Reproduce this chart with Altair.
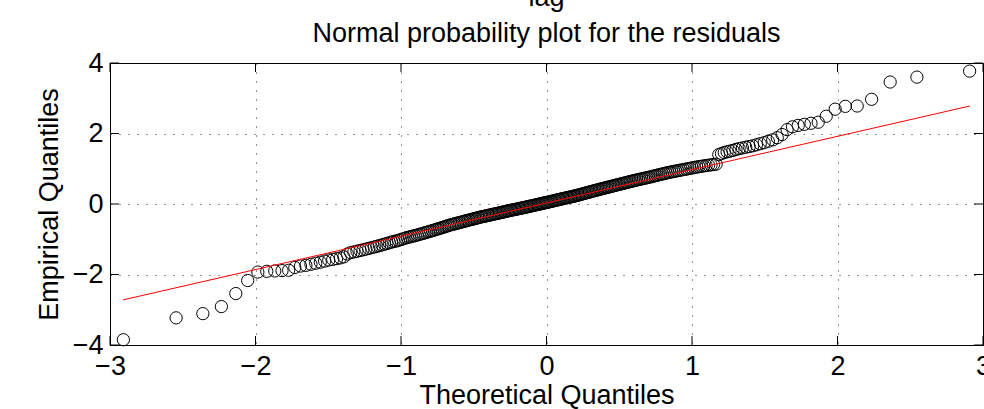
import altair as alt
import pandas as pd

# Sorted residuals (empirical quantiles)
residuals = [
    -3.85, -3.23, -3.11, -2.91, -2.54, -2.17, -1.93, -1.91, -1.90, -1.89,
    -1.88, -1.80, -1.76, -1.74, -1.71,
    -1.68, -1.65, -1.62, -1.59, -1.57, -1.55, -1.53, -1.50, -1.42, -1.38,
    -1.36, -1.34, -1.32, -1.30, -1.28, -1.26, -1.24, -1.22, -1.20, -1.18,
    -1.16, -1.14, -1.12, -1.10, -1.08, -1.06, -1.05, -1.03, -1.01, -0.99,
    -0.97, -0.95, -0.94, -0.92, -0.91,
    -0.895, -0.88, -0.863, -0.848, -0.833, -0.817, -0.80, -0.786, -0.77, -0.755,
    -0.74, -0.724, -0.709, -0.693, -0.678, -0.662, -0.647, -0.631, -0.616, -0.60,
    -0.588, -0.576, -0.564, -0.552, -0.54, -0.528, -0.516, -0.504, -0.492, -0.48,
    -0.469, -0.458, -0.447, -0.436, -0.425, -0.414, -0.403, -0.392, -0.381, -0.37,
    -0.361, -0.352, -0.343, -0.334, -0.325, -0.316, -0.307, -0.298, -0.289, -0.28,
    -0.271, -0.262, -0.253, -0.244, -0.235, -0.226, -0.217, -0.208, -0.199, -0.19,
    -0.182, -0.174, -0.166, -0.158, -0.15, -0.142, -0.134, -0.126, -0.118, -0.11,
    -0.10, -0.093, -0.085, -0.076, -0.068, -0.059, -0.051, -0.042, -0.034, -0.025,
    -0.017, -0.008, 0.0, 0.009, 0.018, 0.026, 0.035, 0.043, 0.052, 0.06,
    0.069, 0.078, 0.087, 0.096, 0.105, 0.114, 0.123, 0.132, 0.141, 0.15,
    0.159, 0.167, 0.176, 0.184, 0.193, 0.201, 0.21, 0.218, 0.227, 0.235,
    0.246, 0.256, 0.267, 0.277, 0.288, 0.298, 0.309, 0.319, 0.33, 0.34,
    0.351, 0.361, 0.372, 0.382, 0.393, 0.403, 0.414, 0.424, 0.435, 0.445,
    0.456, 0.466, 0.477, 0.487, 0.498, 0.508, 0.519, 0.529, 0.54, 0.55,
    0.561, 0.572, 0.583, 0.594, 0.605, 0.616, 0.627, 0.638, 0.649, 0.66,
    0.671, 0.681, 0.692, 0.702, 0.713, 0.723, 0.734, 0.744, 0.755, 0.765,
    0.778, 0.79, 0.803, 0.815, 0.828, 0.84, 0.853, 0.865, 0.878, 0.89,
    0.901, 0.912, 0.923, 0.934, 0.945, 0.956, 0.967, 0.978, 0.989, 1.00,
    1.012, 1.024, 1.036, 1.048, 1.06, 1.07, 1.08, 1.09, 1.10, 1.11,
    1.12, 1.13,
    1.40, 1.43, 1.46, 1.48, 1.50, 1.52, 1.55, 1.57, 1.59, 1.61,
    1.63, 1.65, 1.68, 1.71, 1.74, 1.78, 1.82, 1.88, 1.97, 2.11,
    2.19, 2.23, 2.26, 2.29, 2.32, 2.49, 2.69, 2.77, 2.78, 2.97,
    3.46, 3.60, 3.77,
]

# Reference (fit) line end points
fit_x = [-2.91, 2.91]
fit_y = [-2.72, 2.78]

x_ticks = [-3, -2, -1, 0, 1, 2, 3]
y_ticks = [-4, -2, 0, 2, 4]
title_lines = ["lag", "Normal probability plot for the residuals"]

FONT = "Liberation Sans"
FS = 27
W, H = 873, 282

df = pd.DataFrame({"residual": residuals})
fit_df = pd.DataFrame({"x": fit_x, "y": fit_y})
xt_df = pd.DataFrame({"t": x_ticks})
yt_df = pd.DataFrame({"t": y_ticks})

xscale = alt.Scale(domain=[-3, 3], nice=False, zero=False)
yscale = alt.Scale(domain=[-4, 4], nice=False, zero=False)

axis_common = dict(
    labelFont=FONT, labelFontSize=FS, labelColor="black",
    titleFont=FONT, titleFontSize=FS, titleColor="black", titleFontWeight="normal",
    domainColor="black", domainWidth=1,
    ticks=False, grid=True, gridColor="black", gridDash=[1, 8], gridWidth=1,
    gridOpacity=0.85, labelOverlap=False,
)

points = (
    alt.Chart(df)
    .transform_window(rank="row_number()", sort=[alt.SortField("residual", order="ascending")])
    .transform_joinaggregate(n="count()")
    .transform_calculate(theoretical="quantileNormal((datum.rank - 0.5) / datum.n)")
    .mark_point(shape="circle", filled=False, color="black", size=150, strokeWidth=1, opacity=1)
    .encode(
        x=alt.X("theoretical:Q", scale=xscale,
                axis=alt.Axis(values=x_ticks, title="Theoretical Quantiles", labelFlush=False,
                              labelPadding=8, titlePadding=3, format="d", **axis_common)),
        y=alt.Y("residual:Q", scale=yscale,
                axis=alt.Axis(values=y_ticks, title="Empirical Quantiles",
                              labelPadding=7, titlePadding=9, format="d", **axis_common)),
    )
)

fit = alt.Chart(fit_df).mark_line(color="red", strokeWidth=1).encode(
    x=alt.X("x:Q", scale=xscale), y=alt.Y("y:Q", scale=yscale),
)

tick_len = 9
xt_bottom = alt.Chart(xt_df).mark_rule(color="black", strokeWidth=1).encode(
    x=alt.X("t:Q", scale=xscale), y=alt.value(H), y2=alt.value(H - tick_len))
xt_top = alt.Chart(xt_df).mark_rule(color="black", strokeWidth=1).encode(
    x=alt.X("t:Q", scale=xscale), y=alt.value(0), y2=alt.value(tick_len))
yt_left = alt.Chart(yt_df).mark_rule(color="black", strokeWidth=1).encode(
    y=alt.Y("t:Q", scale=yscale), x=alt.value(0), x2=alt.value(tick_len))
yt_right = alt.Chart(yt_df).mark_rule(color="black", strokeWidth=1).encode(
    y=alt.Y("t:Q", scale=yscale), x=alt.value(W), x2=alt.value(W - tick_len))

title_font = dict(font=FONT, fontSize=FS, color="black", align="center", baseline="alphabetic")
t1 = alt.Chart(pd.DataFrame({"t": [title_lines[0]]})).mark_text(**title_font).encode(
    text="t:N", x=alt.value(W / 2), y=alt.value(-57))
t2 = alt.Chart(pd.DataFrame({"t": [title_lines[1]]})).mark_text(**title_font).encode(
    text="t:N", x=alt.value(W / 2), y=alt.value(-21))

chart = (
    alt.layer(points, fit, xt_bottom, xt_top, yt_left, yt_right, t1, t2)
    .properties(
        width=W, height=H,
        autosize=alt.AutoSizeParams(type="none"),
        padding={"left": 110, "top": 63, "right": 1, "bottom": 64},
        background="white",
    )
    .configure_view(stroke="black", strokeWidth=1)
)

chart.save("out.html", embed_options={"renderer": "svg", "actions": False})
